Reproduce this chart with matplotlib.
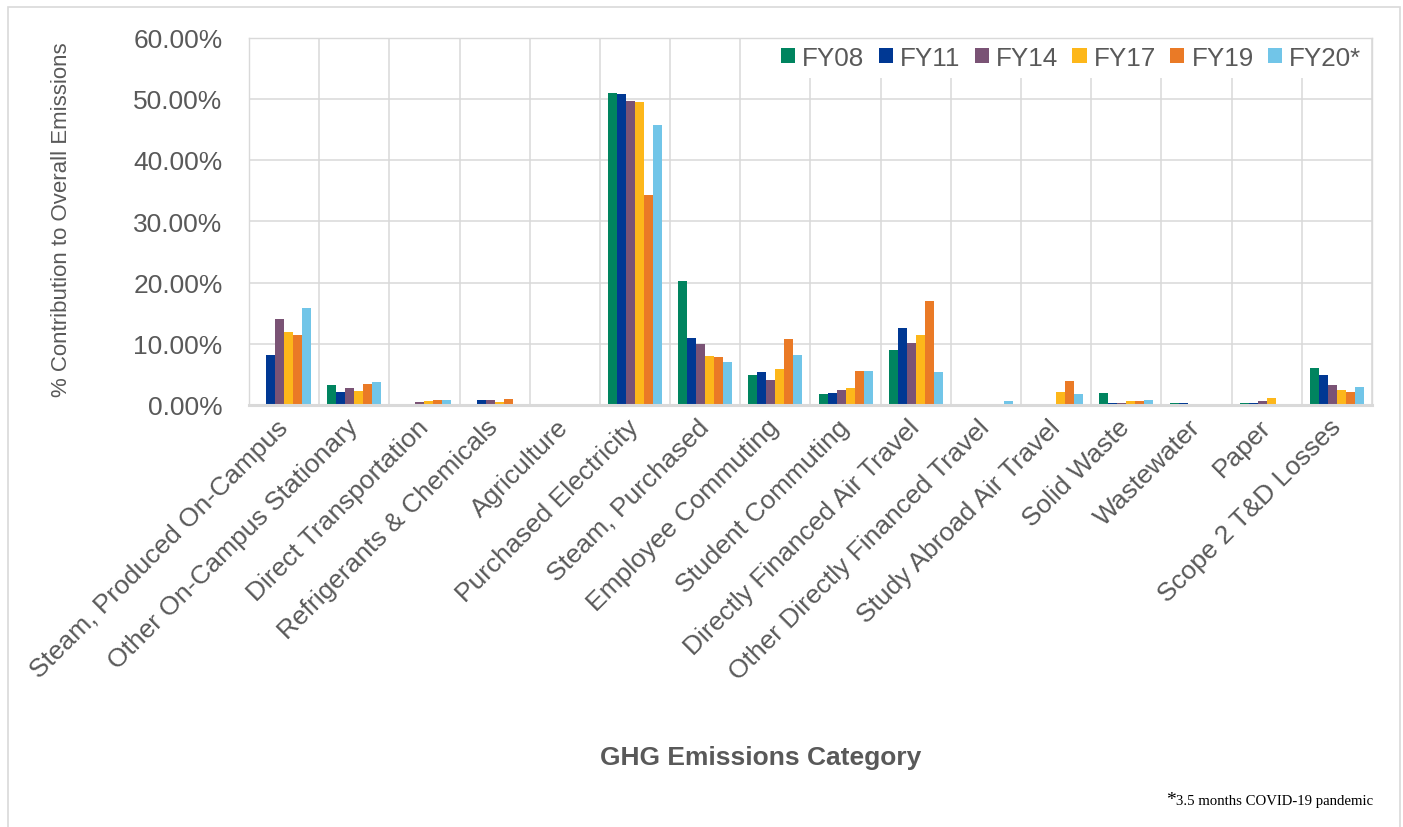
import matplotlib
matplotlib.use("Agg")
import matplotlib.pyplot as plt
import numpy as np
from matplotlib.patches import Rectangle

categories = ["Steam, Produced On-Campus", "Other On-Campus Stationary", "Direct Transportation",
              "Refrigerants & Chemicals", "Agriculture", "Purchased Electricity", "Steam, Purchased",
              "Employee Commuting", "Student Commuting", "Directly Financed Air Travel",
              "Other Directly Financed Travel", "Study Abroad Air Travel", "Solid Waste",
              "Wastewater", "Paper", "Scope 2 T&D Losses"]
series_names = ["FY08", "FY11", "FY14", "FY17", "FY19", "FY20*"]

fy08 = [0.0, 3.3, 0.0, 0.0, 0.0, 50.9, 20.2, 4.9, 1.8, 9.0, 0.0, 0.0, 2.0, 0.4, 0.4, 6.0]
fy11 = [8.2, 2.1, 0.0, 0.8, 0.0, 50.7, 10.9, 5.4, 2.0, 12.5, 0.0, 0.2, 0.4, 0.4, 0.4, 4.9]
fy14 = [14.1, 2.7, 0.5, 0.8, 0.0, 49.6, 10.0, 4.1, 2.5, 10.2, 0.0, 0.1, 0.4, 0.0, 0.7, 3.2]
fy17 = [11.9, 2.3, 0.6, 0.5, 0.0, 49.5, 8.0, 5.8, 2.8, 11.5, 0.0, 2.1, 0.6, 0.0, 1.1, 2.5]
fy19 = [11.5, 3.4, 0.8, 1.0, 0.0, 34.3, 7.8, 10.8, 5.6, 17.0, 0.0, 4.0, 0.6, 0.0, 0.2, 2.1]
fy20 = [15.9, 3.8, 0.8, 0.2, 0.0, 45.7, 7.1, 8.2, 5.5, 5.4, 0.7, 1.8, 0.8, 0.0, 0.0, 2.9]
series = [fy08, fy11, fy14, fy17, fy19, fy20]
colors = ["#00845F", "#003893", "#7A5375", "#FDB71A", "#EA7A26", "#71C5E8"]

yticks = [0, 10, 20, 30, 40, 50, 60]
ytick_labels = ["0.00%", "10.00%", "20.00%", "30.00%", "40.00%", "50.00%", "60.00%"]

TXT = "#595959"
GRID = "#D9D9D9"
plt.rcParams["font.family"] = ["Liberation Sans", "DejaVu Sans"]

fig = plt.figure(figsize=(14.03, 8.28), dpi=100)
fig.patches.append(Rectangle((8 / 1403, -0.1), (1400 - 8) / 1403, 1.1 - 8 / 828,
                             transform=fig.transFigure, fill=False, edgecolor=GRID, lw=1.2))
ax = fig.add_axes([249 / 1403, 1 - 406 / 828, (1372 - 249) / 1403, (406 - 38.5) / 828])

x = np.arange(len(categories))
w = 0.128
for i, (vals, c, name) in enumerate(zip(series, colors, series_names)):
    ax.bar(x + (i - 2.5) * w, vals, width=w, color=c, label=name,
           linewidth=0, zorder=3)

ax.set_xlim(-0.5, len(categories) - 0.5)
ax.set_ylim(0, 60)
ax.set_yticks(yticks)
ax.set_yticklabels(ytick_labels, fontsize=19, color=TXT)
ax.set_xticks(x)
ax.set_xticklabels(categories, fontsize=19, color=TXT)
for lab in ax.get_xticklabels():
    lab.set_rotation(45)
    lab.set_ha("right")
    lab.set_va("center")
    lab.set_rotation_mode("anchor")
ax.set_xticks(np.arange(-0.5, len(categories), 1.0), minor=True)
ax.tick_params(axis="x", which="both", length=0, pad=13)
ax.tick_params(axis="y", length=0, pad=19)
ax.grid(axis="y", which="major", color=GRID, lw=1.1, zorder=0)
ax.grid(axis="x", which="minor", color=GRID, lw=1.1, zorder=0)
ax.set_axisbelow(True)
for s in ["left", "top", "right"]:
    ax.spines[s].set_color(GRID)
    ax.spines[s].set_linewidth(1.0)
    ax.spines[s].set_zorder(6)
ax.spines["bottom"].set_color(GRID)
ax.spines["bottom"].set_linewidth(2.2)
ax.spines["bottom"].set_zorder(6)

leg = ax.legend(loc="upper right", bbox_to_anchor=(0.998, 1.0), ncol=6, fontsize=18.7,
                frameon=True, facecolor="white", edgecolor="none", framealpha=1,
                handlelength=0.55, handleheight=0.55, handletextpad=0.27,
                columnspacing=0.55, borderaxespad=0.0, borderpad=0.32)
leg.get_frame().set_linewidth(0)
for t in leg.get_texts():
    t.set_color(TXT)

fig.text(62 / 1403, 1 - 220 / 828, "% Contribution to Overall Emissions", rotation=90,
         ha="center", va="center", fontsize=16, color=TXT)
fig.text(761 / 1403, 1 - 758 / 828, "GHG Emissions Category", ha="center", va="center",
         fontsize=19, fontweight="bold", color=TXT)
fig.text(1166 / 1403, 1 - 805 / 828, "*", ha="left", va="baseline", fontsize=14,
         family=["Liberation Serif"], color="black")
fig.text(1176 / 1403, 1 - 805 / 828, "3.5 months COVID-19 pandemic", ha="left", va="baseline",
         fontsize=10.6, family=["Liberation Serif"], color="black")

fig.savefig("out.png", dpi=100, facecolor="white")
